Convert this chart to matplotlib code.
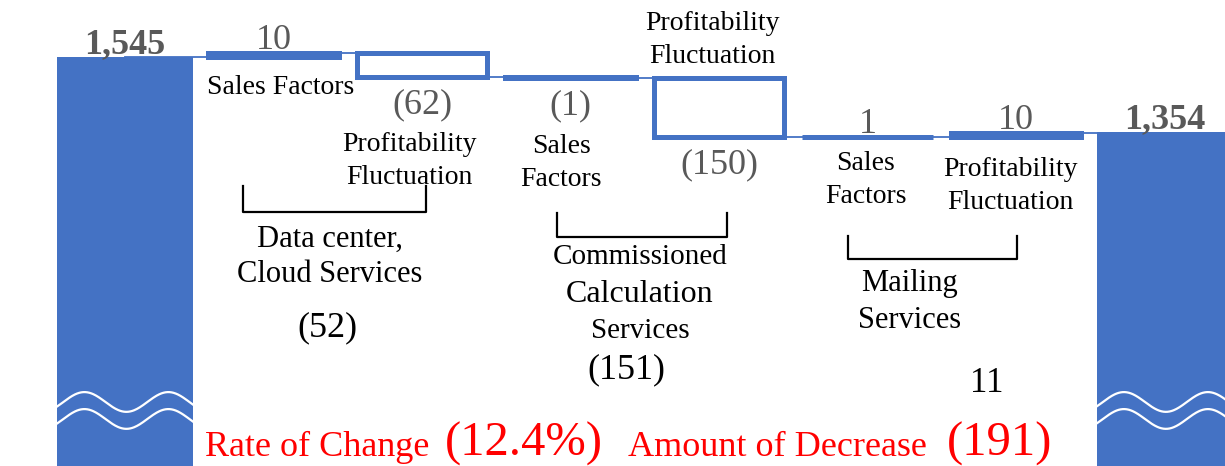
import matplotlib
matplotlib.use("Agg")
import matplotlib.pyplot as plt
import numpy as np

# waterfall values
start_total = 1545
end_total = 1354
deltas = [10, -62, -1, -150, 1, 10]
delta_labels = ["10", "(62)", "(1)", "(150)", "1", "10"]
factor_names = ["Sales Factors", "Profitability\nFluctuation", "Sales\nFactors",
                "Profitability\nFluctuation", "Sales\nFactors", "Profitability\nFluctuation"]
segment_names = ["Data center,\nCloud Services", "Commissioned\nCalculation\nServices",
                 "Mailing\nServices"]
segment_values = ["(52)", "(151)", "11"]
rate_label = "Rate of Change "
rate_value = "(12.4%)"
decrease_label = "Amount of Decrease "
decrease_value = "(191)"

BLUE = "#4472C4"
GRAY = "#595959"
W, H = 1225, 466

plt.rcParams["font.family"] = ["Liberation Serif", "DejaVu Serif"]

fig = plt.figure(figsize=(W / 100, H / 100), dpi=100)
ax = fig.add_axes([0, 0, 1, 1])
ax.set_xlim(-0.842, 7.407)
ax.set_ylim(510, 1689)
ax.axis("off")


def fpos(x, y):
    # pixel position -> figure fraction
    return x / W, 1 - y / H


total_w = 0.912
delta_w = 0.879
n = len(deltas)

levels = np.concatenate([[start_total], start_total + np.cumsum(deltas)])

# totals
ax.bar([0, n + 1], [start_total, end_total], width=total_w, color=BLUE, zorder=2)

# connectors
for i in range(n + 1):
    ax.plot([i, i + 1], [levels[i], levels[i]], color=BLUE, lw=1.3, zorder=1)

# delta bars
for i, d in enumerate(deltas):
    x = i + 1
    prev = levels[i]
    if d >= 0:
        ax.bar(x, d, bottom=prev, width=delta_w, facecolor=BLUE,
               edgecolor=BLUE, lw=3.6, zorder=2)
        ax.annotate(delta_labels[i], (x, prev + d), xytext=(0, 3),
                    textcoords="offset points", ha="center", va="baseline",
                    fontsize=26, color=GRAY)
    else:
        ax.bar(x, -d, bottom=prev + d, width=delta_w, facecolor="white",
               edgecolor=BLUE, lw=3.6, zorder=2)
        ax.annotate(delta_labels[i], (x, prev + d), xytext=(0, -8),
                    textcoords="offset points", ha="center", va="top",
                    fontsize=26, color=GRAY)

# total labels
for x, v in [(0, start_total), (n + 1, end_total)]:
    ax.annotate(f"{v:,}", (x, v), xytext=(0, 3), textcoords="offset points",
                ha="center", va="baseline", fontsize=26, fontweight="bold",
                color=GRAY)

# wavy break marks
u = np.linspace(0, 1, 200)
for x in [0, n + 1]:
    xs = x - total_w / 2 + u * total_w
    wave = 672 + 25 * np.cos(2 * np.pi * (u - 0.2) / 0.62)
    ax.plot(xs, wave, color="white", lw=1.6, zorder=3)
    ax.plot(xs, wave - 43, color="white", lw=1.6, zorder=3)

# factor labels
factor_pos = [(281, 88), (409, 161), (561, 163), (712, 40), (866, 180), (1010, 186)]
for name, (px, py) in zip(factor_names, factor_pos):
    fig.text(*fpos(px, py), name, ha="center", va="center", fontsize=20,
             linespacing=1.42)

# brackets
brackets = [(243, 426, 186, 212), (557, 727, 213, 237), (848, 1017, 236, 259)]
for x0, x1, y0, y1 in brackets:
    bx = [x0, x0, x1, x1]
    by = [y0, y1, y1, y0]
    fig.add_artist(plt.Line2D([p / W for p in bx], [1 - p / H for p in by],
                              color="black", lw=1.6))

# segment labels
fig.text(*fpos(330, 257), segment_names[0], ha="center", va="center",
         fontsize=22, linespacing=1.25)
fig.text(*fpos(327, 328), segment_values[0], ha="center", va="center", fontsize=26)
for line, (py, fs) in zip(segment_names[1].split("\n"), [(257, 21), (295, 23), (331, 21)]):
    fig.text(*fpos(640, py), line, ha="center", va="center", fontsize=fs)
fig.text(*fpos(626, 370), segment_values[1], ha="center", va="center", fontsize=26)
fig.text(*fpos(910, 302), segment_names[2], ha="center", va="center",
         fontsize=22, linespacing=1.33)
fig.text(*fpos(987, 383), segment_values[2], ha="center", va="center", fontsize=25)

# red summary
fig.text(*fpos(205, 456), rate_label, ha="left", va="baseline", fontsize=26, color="red")
fig.text(*fpos(445, 456), rate_value, ha="left", va="baseline", fontsize=35, color="red")
fig.text(*fpos(628, 456), decrease_label, ha="left", va="baseline", fontsize=26, color="red")
fig.text(*fpos(947, 456), decrease_value, ha="left", va="baseline", fontsize=35, color="red")

fig.savefig("out.png", dpi=100)
